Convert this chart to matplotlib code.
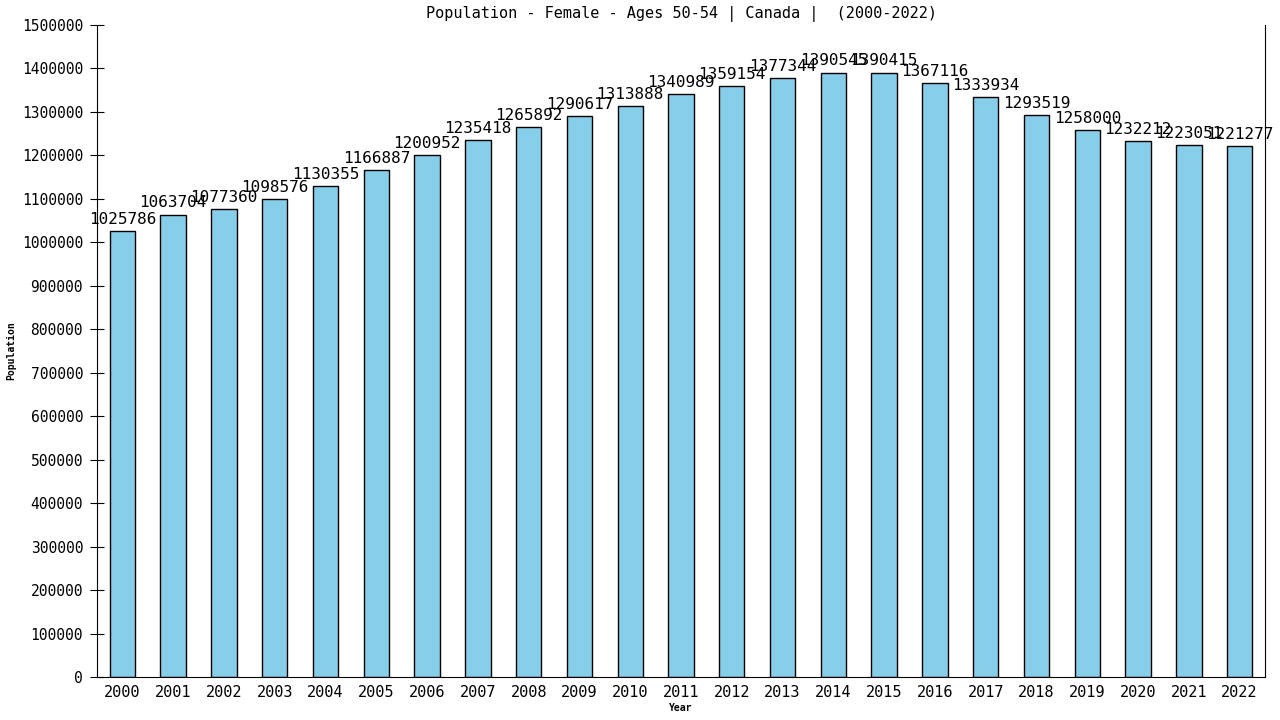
import matplotlib
matplotlib.use("Agg")
import matplotlib.pyplot as plt
from matplotlib.ticker import MultipleLocator, StrMethodFormatter

# data
years = [str(y) for y in range(2000, 2023)]
population = [1025786, 1063704, 1077360, 1098576, 1130355, 1166887, 1200952,
              1235418, 1265892, 1290617, 1313888, 1340989, 1359154, 1377344,
              1390545, 1390415, 1367116, 1333934, 1293519, 1258000, 1232212,
              1223051, 1221277]

plt.rcParams['font.family'] = ['DejaVu Sans Mono', 'DejaVu Sans']

fig = plt.figure(figsize=(12.8, 7.2), dpi=100)
ax = fig.add_axes([97 / 1280, 43 / 720, (1265 - 97) / 1280, (677 - 25) / 720])

x = list(range(len(years)))
ax.bar(x, population, width=0.5, color='#87ceeb', edgecolor='black', linewidth=1)

for xi, val in zip(x, population):
    ax.annotate(str(val), (xi, val), xytext=(0, 3), textcoords='offset points',
                ha='center', va='bottom', fontsize=11.5)

ax.set_xlim(-0.5, len(years) - 0.5)
ax.set_ylim(0, 1500000)
ax.yaxis.set_major_locator(MultipleLocator(100000))
ax.yaxis.set_major_formatter(StrMethodFormatter('{x:.0f}'))
ax.set_xticks(x)
ax.set_xticklabels(years)
ax.tick_params(axis='x', length=0, labelsize=11, pad=6)
ax.tick_params(axis='y', direction='inout', length=10, labelsize=10.5, pad=5)
ax.spines['top'].set_visible(False)

ax.set_title('Population - Female - Ages 50-54 | Canada |  (2000-2022)', fontsize=11, pad=5)
ax.set_xlabel('Year', fontsize=7, fontweight='bold', labelpad=2)
ax.set_ylabel('Population', fontsize=7, fontweight='bold', labelpad=4)

fig.savefig('out.png', dpi=100)
